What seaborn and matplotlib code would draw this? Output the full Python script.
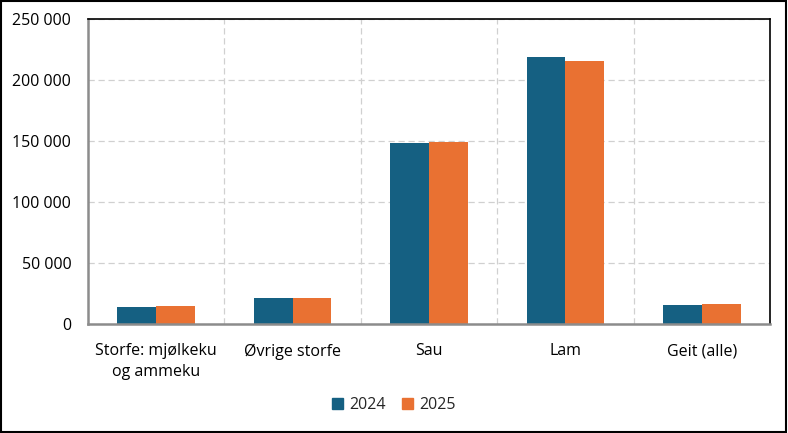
import matplotlib
matplotlib.use("Agg")
import matplotlib.pyplot as plt
import seaborn as sns
import pandas as pd
from matplotlib.ticker import FuncFormatter, MultipleLocator
from matplotlib.patches import Rectangle

categories = ["Storfe: mjølkeku\nog ammeku", "Øvrige storfe", "Sau", "Lam", "Geit (alle)"]
years = ["2024", "2025"]
values_2024 = [14000, 21500, 148600, 219100, 15600]
values_2025 = [14800, 21500, 149400, 215800, 16400]
colors = ["#156082", "#E97132"]

df = pd.DataFrame({
    "Kategori": categories * 2,
    "År": [years[0]] * len(categories) + [years[1]] * len(categories),
    "Antall": values_2024 + values_2025,
})

sns.set_style("white")
plt.rcParams["font.family"] = ["Open Sans", "DejaVu Sans"]

fig = plt.figure(figsize=(7.88, 4.33), dpi=100)
ax = fig.add_axes([88/788, 1 - 324/433, (770-88)/788, (324-19)/433])

sns.barplot(data=df, x="Kategori", y="Antall", hue="År", palette=colors,
            width=0.57, gap=0, saturation=1, linewidth=0, ax=ax, legend=True)

ax.set_xlim(-0.5, 4.5)
ax.set_ylim(0, 250000)
ax.yaxis.set_major_locator(MultipleLocator(50000))
ax.yaxis.set_major_formatter(FuncFormatter(lambda v, p: f"{int(v):,}".replace(",", " ")))
ax.set_xlabel("")
ax.set_ylabel("")

# grid
ax.grid(axis="y", color="#d0d0d0", linestyle=(0, (5, 3)), linewidth=0.9)
for b in [0.5, 1.5, 2.5, 3.5]:
    ax.axvline(b, color="#d0d0d0", linestyle=(0, (5, 3)), linewidth=0.9, zorder=0)
ax.set_axisbelow(True)

for s in ["left", "bottom"]:
    ax.spines[s].set_color("#8c8c8c")
    ax.spines[s].set_linewidth(1.8)
for s in ["top", "right"]:
    ax.spines[s].set_color("black")
    ax.spines[s].set_linewidth(1.2)

ax.tick_params(axis="both", length=0, labelsize=11.5, colors="black")
ax.tick_params(axis="x", pad=14)
ax.tick_params(axis="y", pad=12)
for lbl in ax.get_xticklabels():
    lbl.set_linespacing(1.35)

ax.get_legend().remove()
handles = [Rectangle((0, 0), 1, 1, color=c) for c in colors]
fig.legend(handles, years, loc="center", bbox_to_anchor=(0.5, 1 - 405/433), ncol=2,
           frameon=False, fontsize=11.5, handlelength=0.7, handleheight=0.7,
           handletextpad=0.4, columnspacing=1.0)

# figure border
fig.patches.append(Rectangle((0.001, 0.002), 0.997, 0.996, transform=fig.transFigure,
                             fill=False, edgecolor="black", linewidth=1.5))

fig.savefig("out.png", dpi=100)
